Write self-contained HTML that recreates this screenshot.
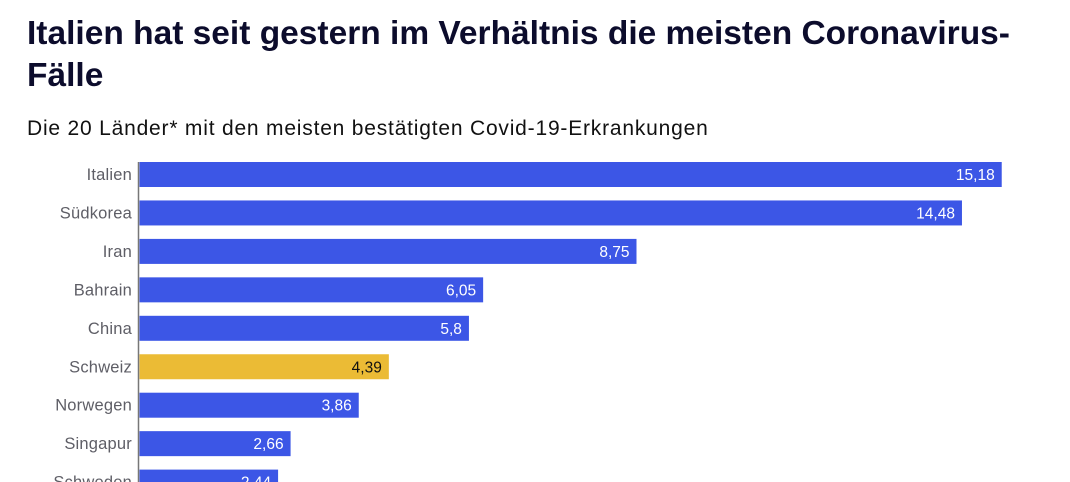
<!DOCTYPE html>
<html><head><meta charset="utf-8">
<style>
body{margin:0;width:1070px;height:482px;overflow:hidden;background:#fff;font-family:"Liberation Sans",sans-serif;}
#title{position:absolute;left:27px;top:13px;width:1040px;font-size:33.5px;font-weight:bold;line-height:42px;color:#0c0c2c;margin:0;}
#subtitle{position:absolute;left:27px;top:117px;font-size:21px;letter-spacing:0.8px;color:#111;margin:0;}
svg{position:absolute;left:0;top:0;}
</style></head><body>
<h1 id="title">Italien hat seit gestern im Verhältnis die meisten Coronavirus-Fälle</h1>
<p id="subtitle">Die 20 Länder* mit den meisten bestätigten Covid-19-Erkrankungen</p>
<svg id="chart" width="1070" height="482"></svg>
<script>
const categories=["Italien","Südkorea","Iran","Bahrain","China","Schweiz","Norwegen","Singapur","Schweden"];
const values=[15.18,14.48,8.75,6.05,5.8,4.39,3.86,2.66,2.44];
const valueLabels=["15,18","14,48","8,75","6,05","5,8","4,39","3,86","2,66","2,44"];
const highlight=["Schweiz"];
const NS="http://www.w3.org/2000/svg";
const svg=document.getElementById('chart');
const x0=139.5,pxPer=56.8,top0=162,pitch=38.45,bh=25;
function xs(v){return v*pxPer;}
function ys(i){return top0+i*pitch;}
function mk(t,a){const e=document.createElementNS(NS,t);for(const k in a)e.setAttribute(k,a[k]);svg.appendChild(e);return e;}
categories.forEach((c,i)=>{
  const y=ys(i),hl=highlight.includes(c);
  const r=mk('rect',{x:x0,y:y,width:xs(values[i]),height:bh,fill:hl?'#ebbb35':'#3c56e6'});
  
  
  const l=mk('text',{x:132,y:y+bh/2+5.5,'text-anchor':'end','font-size':16.5,'letter-spacing':0.2,fill:'#5e5e66','font-family':'Liberation Sans, sans-serif'});
  l.textContent=c;
  
  
  const v=mk('text',{x:x0+xs(values[i])-7,y:y+bh/2+5.5,'text-anchor':'end','font-size':15.5,fill:hl?'#111':'#fff','font-family':'Liberation Sans, sans-serif'});
  v.textContent=valueLabels[i];
  
  
});
const ax=mk('line',{x1:138.5,x2:138.5,y1:top0,y2:482,stroke:'#777','stroke-width':1.5});


</script>
</body></html>
